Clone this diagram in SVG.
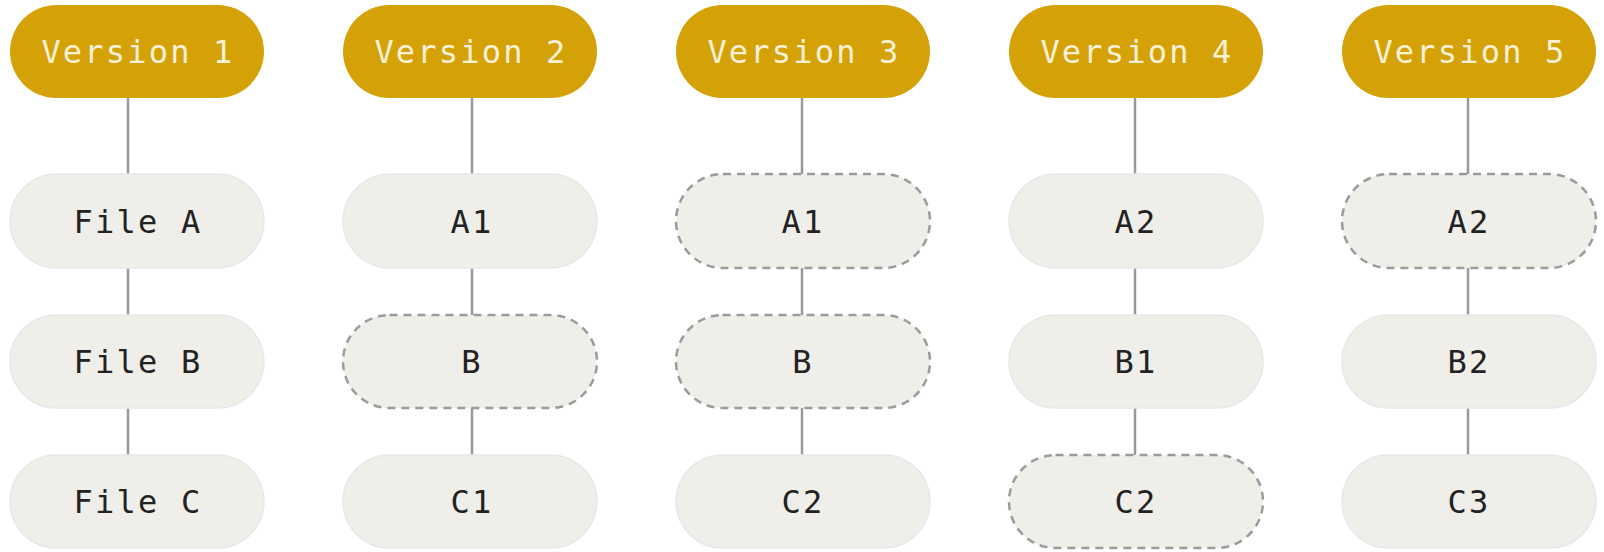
<svg xmlns="http://www.w3.org/2000/svg" width="1604" height="552" viewBox="0 0 1604 552">
<style>
.ver{fill:#D4A107;}
.file{fill:#EFEEE8;stroke:#E3EAEA;stroke-width:1.5;}
.dash{fill:#EFEEE8;stroke:#9A9C9C;stroke-width:2.5;stroke-dasharray:8 6;}
.vt{font-family:"DejaVu Sans Mono","Liberation Mono",monospace;font-size:32px;letter-spacing:2.2px;fill:#FDF1D8;text-anchor:middle;}
.ft{font-family:"DejaVu Sans Mono","Liberation Mono",monospace;font-size:32px;letter-spacing:2.2px;fill:#222222;text-anchor:middle;}
.conn line{stroke:#999999;stroke-width:2.5;}
</style>
<rect width="1604" height="552" fill="#FFFFFF"/>
<g id="connectors" class="conn">
<line x1="128" y1="98" x2="128" y2="174"/>
<line x1="128" y1="268" x2="128" y2="315"/>
<line x1="128" y1="408" x2="128" y2="455"/>
<line x1="472" y1="98" x2="472" y2="174"/>
<line x1="472" y1="268" x2="472" y2="315"/>
<line x1="472" y1="408" x2="472" y2="455"/>
<line x1="802" y1="98" x2="802" y2="174"/>
<line x1="802" y1="268" x2="802" y2="315"/>
<line x1="802" y1="408" x2="802" y2="455"/>
<line x1="1135" y1="98" x2="1135" y2="174"/>
<line x1="1135" y1="268" x2="1135" y2="315"/>
<line x1="1135" y1="408" x2="1135" y2="455"/>
<line x1="1468" y1="98" x2="1468" y2="174"/>
<line x1="1468" y1="268" x2="1468" y2="315"/>
<line x1="1468" y1="408" x2="1468" y2="455"/>
</g>
<g id="v1"><rect class="ver" x="10" y="5" width="254" height="93" rx="46.5"/><text class="vt" x="138" y="63">Version 1</text></g>
<g id="v2"><rect class="ver" x="343" y="5" width="254" height="93" rx="46.5"/><text class="vt" x="471" y="63">Version 2</text></g>
<g id="v3"><rect class="ver" x="676" y="5" width="254" height="93" rx="46.5"/><text class="vt" x="804" y="63">Version 3</text></g>
<g id="v4"><rect class="ver" x="1009" y="5" width="254" height="93" rx="46.5"/><text class="vt" x="1137" y="63">Version 4</text></g>
<g id="v5"><rect class="ver" x="1342" y="5" width="254" height="93" rx="46.5"/><text class="vt" x="1470" y="63">Version 5</text></g>

<g id="v1-a"><rect class="file" x="10" y="174" width="254" height="94" rx="47"/><text class="ft" x="138" y="233">File A</text></g>
<g id="v1-b"><rect class="file" x="10" y="315" width="254" height="93" rx="46.5"/><text class="ft" x="138" y="373">File B</text></g>
<g id="v1-c"><rect class="file" x="10" y="455" width="254" height="93" rx="46.5"/><text class="ft" x="138" y="513">File C</text></g>

<g id="v2-a"><rect class="file" x="343" y="174" width="254" height="94" rx="47"/><text class="ft" x="472" y="233">A1</text></g>
<g id="v2-b"><rect class="dash" x="343" y="315" width="254" height="93" rx="46.5"/><text class="ft" x="472" y="373">B</text></g>
<g id="v2-c"><rect class="file" x="343" y="455" width="254" height="93" rx="46.5"/><text class="ft" x="472" y="513">C1</text></g>

<g id="v3-a"><rect class="dash" x="676" y="174" width="254" height="94" rx="47"/><text class="ft" x="803" y="233">A1</text></g>
<g id="v3-b"><rect class="dash" x="676" y="315" width="254" height="93" rx="46.5"/><text class="ft" x="803" y="373">B</text></g>
<g id="v3-c"><rect class="file" x="676" y="455" width="254" height="93" rx="46.5"/><text class="ft" x="803" y="513">C2</text></g>

<g id="v4-a"><rect class="file" x="1009" y="174" width="254" height="94" rx="47"/><text class="ft" x="1136" y="233">A2</text></g>
<g id="v4-b"><rect class="file" x="1009" y="315" width="254" height="93" rx="46.5"/><text class="ft" x="1136" y="373">B1</text></g>
<g id="v4-c"><rect class="dash" x="1009" y="455" width="254" height="93" rx="46.5"/><text class="ft" x="1136" y="513">C2</text></g>

<g id="v5-a"><rect class="dash" x="1342" y="174" width="254" height="94" rx="47"/><text class="ft" x="1469" y="233">A2</text></g>
<g id="v5-b"><rect class="file" x="1342" y="315" width="254" height="93" rx="46.5"/><text class="ft" x="1469" y="373">B2</text></g>
<g id="v5-c"><rect class="file" x="1342" y="455" width="254" height="93" rx="46.5"/><text class="ft" x="1469" y="513">C3</text></g>
</svg>
